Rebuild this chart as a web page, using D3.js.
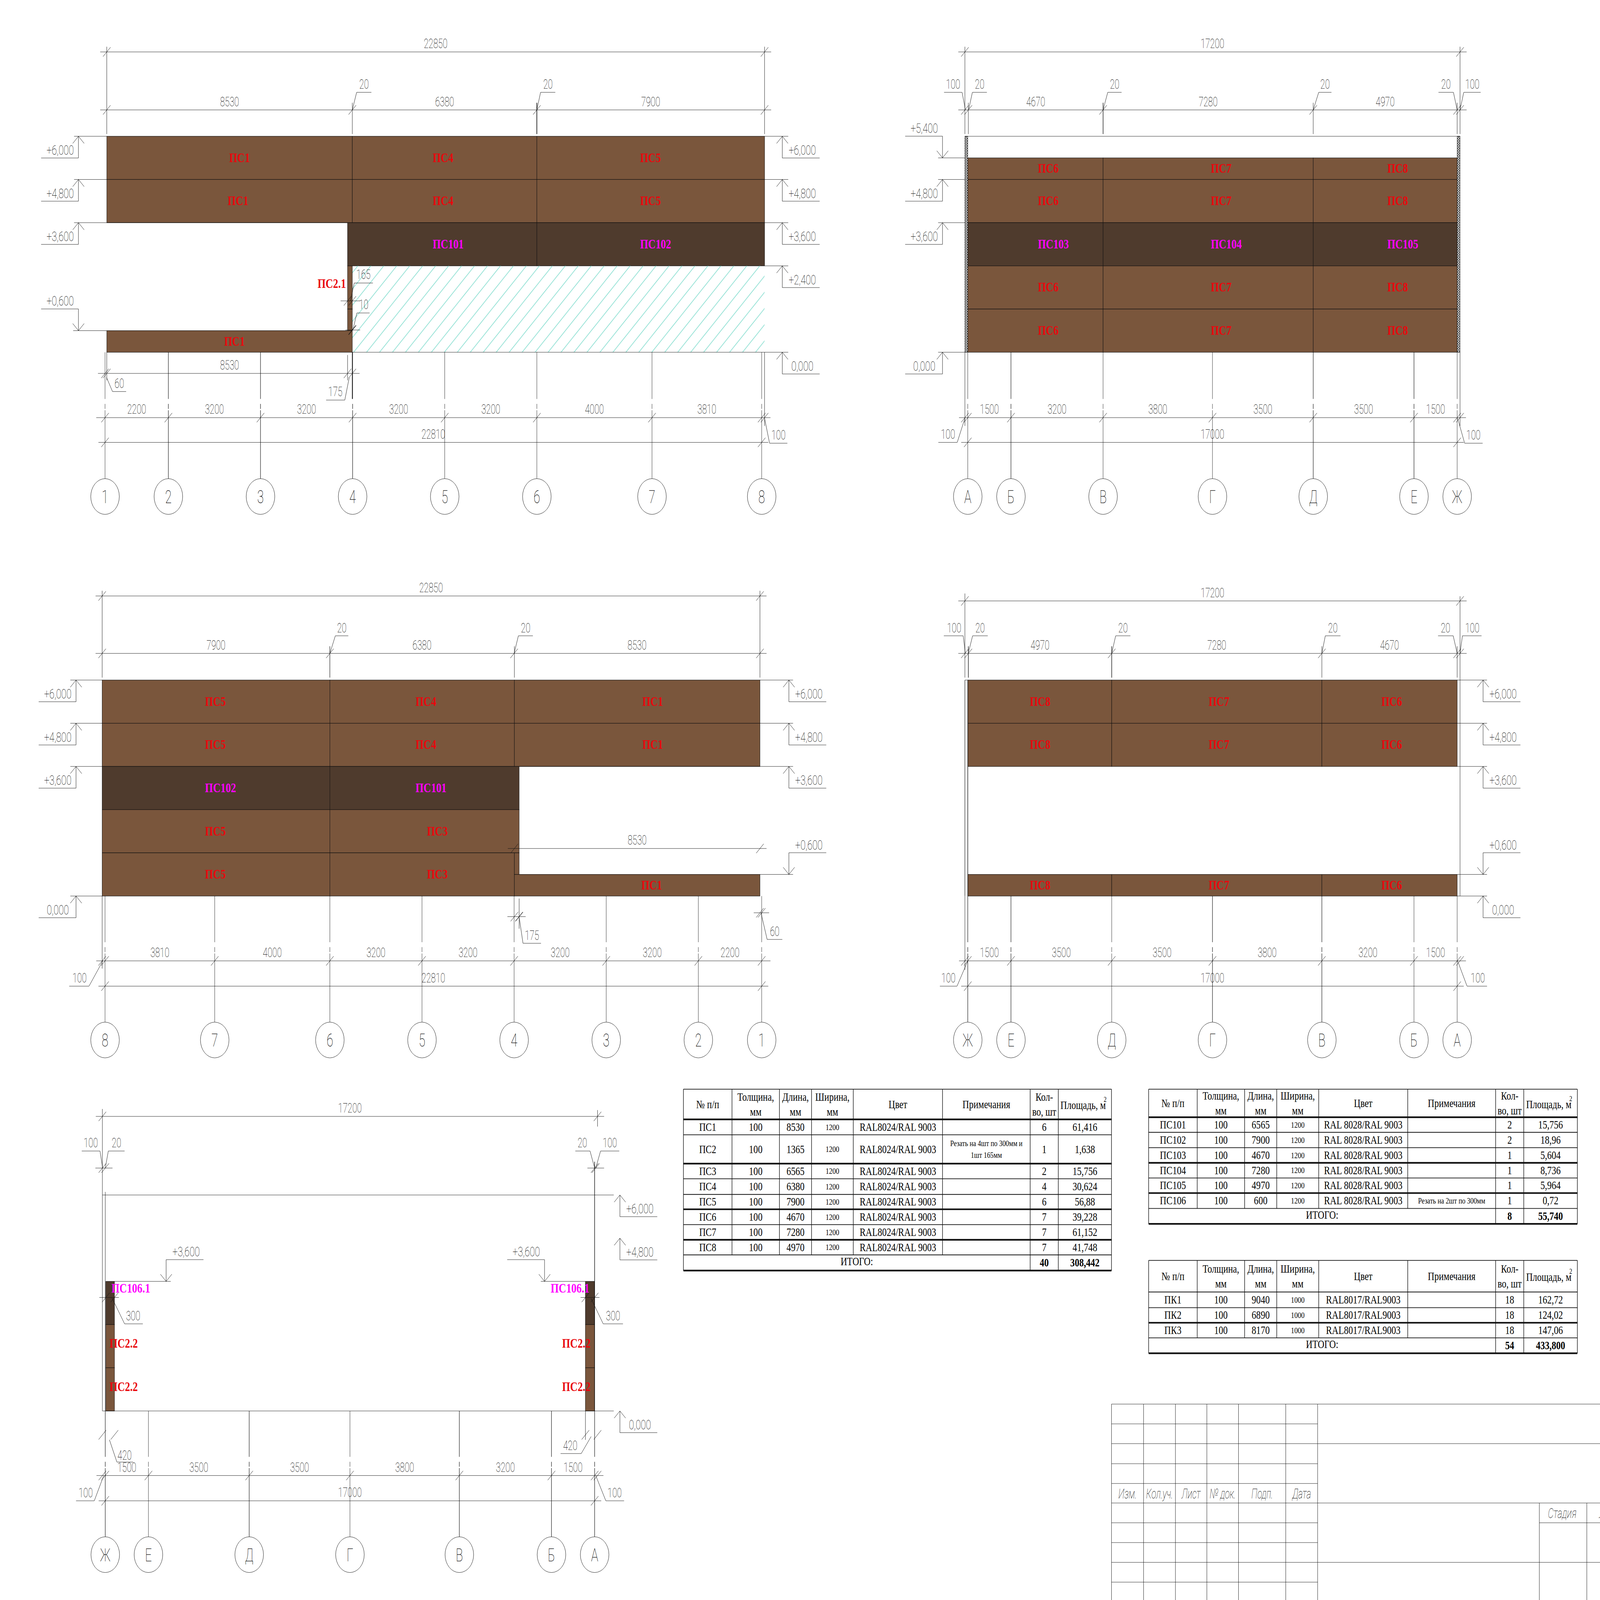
<!DOCTYPE html>
<html><head><meta charset="utf-8">
<script src="https://cdn.jsdelivr.net/npm/d3@7/dist/d3.min.js"></script>
<style>html,body{margin:0;padding:0;background:#fff;overflow:hidden}svg{display:block;width:100vw;height:100vh}</style>
</head><body><svg id="c" viewBox="0 0 7281 5823" preserveAspectRatio="none"></svg>
<script>
// ---------- drawing data, millimetres ----------
const axesLatin = ["1","2","3","4","5","6","7","8"];
const axesLatinPos = [0,2200,5400,8600,11800,15000,19000,22810];
const axesLatinSpans = ["2200","3200","3200","3200","3200","4000","3810"];
const axesLatinRev = ["8","7","6","5","4","3","2","1"];
const axesLatinRevPos = [0,3810,7810,11010,14210,17410,20610,22810];
const axesLatinRevSpans = ["3810","4000","3200","3200","3200","3200","2200"];
const axesCyr = ["А","Б","В","Г","Д","Е","Ж"];
const axesCyrPos = [0,1500,4700,8500,12000,15500,17000];
const axesCyrSpans = ["1500","3200","3800","3500","3500","1500"];
const axesCyrRev = ["Ж","Е","Д","Г","В","Б","А"];
const axesCyrRevPos = [0,1500,5000,8500,12300,15500,17000];
const axesCyrRevSpans = ["1500","3500","3500","3800","3200","1500"];

// panels: [from, to, bottom level, top level, kind] kind 0 brown, 1 dark, 2 hatch, 3 edge
const panels1 = [[60,8590,4800,6000,0],[8590,15000,4800,6000,0],[15000,22910,4800,6000,0],
 [60,8590,3600,4800,0],[8590,15000,3600,4800,0],[15000,22910,3600,4800,0],
 [8425,15000,2400,3600,1],[15000,22910,2400,3600,1],
 [8590,22910,0,2400,2],[8425,8590,1200,2400,0],[8425,8590,600,1200,0],[60,8590,0,600,0]];
const cols2 = [[0,4700],[4700,12000],[12000,17000]];
const rows2 = [[4800,5400,0],[3600,4800,0],[2400,3600,1],[1200,2400,0],[0,1200,0]];
const edges2 = [[-100,0,0,6000,3],[17000,17100,0,6000,3]];
const panels3 = [[-100,7810,4800,6000,0],[7810,14220,4800,6000,0],[14220,22750,4800,6000,0],
 [-100,7810,3600,4800,0],[7810,14220,3600,4800,0],[14220,22750,3600,4800,0],
 [-100,7810,2400,3600,1],[7810,14385,2400,3600,1],
 [-100,7810,1200,2400,0],[7810,14385,1200,2400,0],
 [-100,7810,0,1200,0],[7810,14220,0,1200,0],[14220,14385,600,1200,0],[14220,22750,0,600,0]];
const cols4 = [[0,5000],[5000,12300],[12300,17000]];
const rows4 = [[4800,6000,0],[3600,4800,0],[0,600,0]];
const cols5 = [[20,320],[16680,17000]];
const rows5 = [[2400,3600,1],[1200,2400,0],[0,1200,0]];

// panel marks: [text, start, level]
const marks1 = [["ПС1",4313,5400],["ПС1",4260,4200],["ПС4",11382,5400],["ПС4",11382,4200],["ПС5",18588,5400],["ПС5",18588,4200],
 ["ПС101",11382,3000],["ПС102",18588,3000],["ПС1",4137,300],["ПС2.1",7382,1900]];
const marks2 = d3.cross([["ПС6",2435],["ПС7",8443],["ПС8",14573]],[5100,4200,1800,600]).map(([a,l])=>[a[0],a[1],l])
 .concat([["ПС103",2435,3000],["ПС104",8443,3000],["ПС105",14573,3000]]);
const marks3 = [["ПС5",3473,5400],["ПС5",3473,4200],["ПС5",3473,1800],["ПС5",3473,600],["ПС4",10786,5400],["ПС4",10786,4200],
 ["ПС1",18664,5400],["ПС1",18664,4200],["ПС1",18630,300],["ПС102",3473,3000],["ПС101",10786,3000],["ПС3",11183,1800],["ПС3",11183,600]];
const marks4 = d3.cross([["ПС8",2153],["ПС7",8366],["ПС6",14366]],[5400,4200,300]).map(([a,l])=>[a[0],a[1],l]);
const marks5 = [["ПС106.1",214,3405],["ПС106.1",15473,3405],["ПС2.2",145,1870],["ПС2.2",145,664],["ПС2.2",15870,1870],["ПС2.2",15870,664]];

// tables
const tHead = [["№ п/п"],["Толщина,","мм"],["Длина,","мм"],["Ширина,","мм"],["Цвет"],["Примечания"],["Кол-","во, шт"],["Площадь, м"]];
const t1Name=["ПС1","ПС2","ПС3","ПС4","ПС5","ПС6","ПС7","ПС8"];
const t1Len=["8530","1365","6565","6380","7900","4670","7280","4970"];
const t1Qty=["6","1","2","4","6","7","7","7"];
const t1Area=["61,416","1,638","15,756","30,624","56,88","39,228","61,152","41,748"];
const t1Total=["40","308,442"];
const t2Name=["ПС101","ПС102","ПС103","ПС104","ПС105","ПС106"];
const t2Len=["6565","7900","4670","7280","4970","600"];
const t2Qty=["2","2","1","1","1","1"];
const t2Area=["15,756","18,96","5,604","8,736","5,964","0,72"];
const t2Total=["8","55,740"];
const t3Name=["ПК1","ПК2","ПК3"];
const t3Len=["9040","6890","8170"];
const t3Qty=["18","18","18"];
const t3Area=["162,72","124,02","147,06"];
const t3Total=["54","433,800"];

// ---------- layout ----------
const svg = d3.select("#c");
const S = 0.131, LINE="#111", THIN="Roboto", SERIF="'Liberation Serif'";
const BROWN="#7a563c", DARK="#4f3b2d", RED="#e9070d", MAG="#ff00ff";
const defs = svg.append("defs");
const hp = defs.append("pattern").attr("id","hatch").attr("patternUnits","userSpaceOnUse").attr("width",59).attr("height",59);
hp.append("path").attr("d","M0,59L59,0M-10,10L10,-10M49,69L69,49").attr("stroke","#7fdccd").attr("stroke-width",2.6);
const ep = defs.append("pattern").attr("id","edge").attr("patternUnits","userSpaceOnUse").attr("width",9).attr("height",9);
ep.append("rect").attr("width",9).attr("height",9).attr("fill","#fff");
ep.append("path").attr("d","M0,9L9,0M0,0L9,9").attr("stroke","#222").attr("stroke-width",1.8);

const gFill = svg.append("g"), gLines = svg.append("g").attr("fill","none"), gText = svg.append("g");
function seg(x1,y1,x2,y2,w=1.4,c=LINE){gLines.append("line").attr("x1",x1).attr("y1",y1).attr("x2",x2).attr("y2",y2).attr("stroke",c).attr("stroke-width",w);}
function poly(pts,w=1.4){gLines.append("path").attr("d",d3.line()(pts)).attr("stroke",LINE).attr("stroke-width",w);}
function thin(t,x,y,fs=48,sx=.82,anchor="middle",extra){
  const n=gText.append("text").attr("transform",`translate(${x},${y}) scale(${sx},1)`).attr("text-anchor",anchor)
   .attr("font-family",THIN).attr("font-weight",100).attr("font-size",fs).attr("fill","#000").text(t);
  if(extra) n.attr("font-style",extra);
}
function tick(x,y,w=1.4){seg(x-17,y+17,x+17,y-17,w);}
function hdim(xs,y,labels,l=30,r=30,w=1.4){
  seg(xs[0]-l,y,xs[xs.length-1]+r,y);
  xs.forEach(x=>tick(x,y,w));
  (labels||[]).forEach((t,i)=>{if(t) thin(t,(xs[i]+xs[i+1])/2,y-14);});
}
function leader(x1,y1,x2,y2,x3,t,cx,by){
  poly([[x1,y1],[x2,y2],[x3,y2]]);
  thin(t,cx===undefined?(x2+x3)/2:cx,by===undefined?y2-13:by);
}
function level(ax,y,t,dir,side,e1,e2){
  const u = dir>0 ? y+79 : y-79, leg = dir>0 ? 26 : -26;
  seg(ax,y,ax,u); poly([[ax-26,y+leg],[ax,y],[ax+26,y+leg]]);
  const x2 = side<0 ? ax-170 : ax+170; seg(ax,u,x2,u);
  thin(t,(ax+x2)/2+(side<0?2:6),u-12,46,.92);
  if(e1!==undefined) seg(e1,y,e2,y);
}
function panelRects(list,x,y){
  list.forEach(([a,b,h1,h2,k])=>{
    const fill = k===0?BROWN:k===1?DARK:k===2?"url(#hatch)":"url(#edge)";
    gFill.append("rect").attr("x",x(a)).attr("y",y(h2)).attr("width",x(b)-x(a)).attr("height",y(h1)-y(h2))
      .attr("fill",fill).attr("stroke",k===2?"none":"#111").attr("stroke-width",1.6);
  });
}
function markTexts(list,x,y){
  list.forEach(([t,a,l])=>gText.append("text").attr("x",x(a)).attr("y",y(l)+15).attr("font-family",SERIF).attr("font-weight",700)
    .attr("font-size",47).attr("fill",t.startsWith("ПС10")?MAG:RED).text(t));
}
function axisLines(names,pos,x,y,dimY,cy,spans,solid){
  names.forEach((n,i)=>{
    const px=x(pos[i]), w=(solid&&solid.includes(n))?2:1.3;
    seg(px,y(0),px,dimY-68,w); seg(px,dimY-50,px,dimY-32,w); seg(px,dimY-27,px,cy-65,w);
    gLines.append("ellipse").attr("cx",px).attr("cy",cy).attr("rx",65).attr("ry",65).attr("stroke",LINE).attr("stroke-width",1.4);
    thin(n,px,cy+24,66,.82);
  });
  hdim(pos.map(x),dimY,spans,40,40);
}
const scX = x0 => d3.scaleLinear().domain([0,1000]).range([x0,x0+S*1000]);
const scY = y0 => d3.scaleLinear().domain([0,6000]).range([y0,y0-S*6000]);

// ---- drawing 1: axes 1-8 ----
(function(){
  const x=scX(478), y=scY(1282);
  panelRects(panels1,x,y); markTexts(marks1,x,y);
  hdim([x(60),x(22910)],189,["22850"]);
  hdim([x(60),x(8590),x(15000),x(22910)],400,["8530","6380","7900"]);
  seg(x(60),170,x(60),488); seg(x(22910),170,x(22910),488);
  seg(x(8590),374,x(8590),488); seg(x(15000),374,x(15000),488,3);
  leader(x(8590),400,1623,336,1690,"20"); leader(x(15000),400,2460,336,2527,"20");
  axisLines(axesLatin,axesLatinPos,x,y,1520,1807,axesLatinSpans,["2","3","4"]);
  hdim([x(0),x(22810)],1610,["22810"]); tick(x(22910),1520);
  seg(x(22910),y(0),x(22910),1550);
  leader(x(22910),1522,3502,1613,3583,"100");
  hdim([x(60),x(8590)],1359,["8530"],40,33); tick(x(0),1359); tick(x(8425),1359,1.4);
  seg(x(8425),1292,x(8425),1384); seg(x(60),y(0),x(60),1384); seg(x(8590),y(0),x(8590),1452,3);
  leader(485,1374,512,1425,574,"60");
  poly([[1589,1375],[1569,1456],[1484,1456]]); thin("175",1526,1441);
  seg(1550,1095,1638,1095); tick(x(8425),1095); tick(x(8590),1095);
  leader(1595,1095,1612,1030,1697,"165",1654,1015);
  seg(1572,1201,1639,1201); tick(x(8590),1201,2.4);
  leader(1606,1201,1624,1139,1682,"10",1655,1125);
  level(357,y(6000),"+6,000",1,-1,337,x(60));
  level(357,y(4800),"+4,800",1,-1,337,x(60));
  level(357,y(3600),"+3,600",1,-1,337,x(8425));
  level(357,y(600),"+0,600",-1,-1,333,x(60));
  const a=3560,e=3587;
  level(a,y(6000),"+6,000",1,1,x(22910),e);
  level(a,y(4800),"+4,800",1,1,x(22910),e);
  level(a,y(3600),"+3,600",1,1,x(22910),e);
  level(a,y(2400),"+2,400",1,1,x(22910),e);
  level(a,y(0),"0,000",1,1,x(8590),e);
})();

// ---- drawing 2: axes А-Ж ----
(function(){
  const x=scX(4404), y=scY(1282);
  panelRects(d3.cross(cols2,rows2).map(([c,r])=>[c[0],c[1],r[0],r[1],r[2]]).concat(edges2),x,y);
  markTexts(marks2,x,y);
  seg(x(-100),y(6000),x(17100),y(6000));
  hdim([x(-100),x(17100)],189,["17200"]);
  hdim([x(-100),x(20),x(4700),x(12000),x(17000),x(17100)],400,["","4670","7280","4970",""]);
  seg(x(-100),170,x(-100),488); seg(x(17100),170,x(17100),488);
  seg(x(20),374,x(20),488); seg(x(4700),374,x(4700),488,2.4); seg(x(12000),374,x(12000),488);seg(x(17000),374,x(17000),488);
  leader(4393,399,4378,336,4296,"100",4337); leader(4408,399,4425,336,4491,"20",4458);
  leader(x(4700),400,5041,336,5104,"20"); leader(x(12000),400,6001,336,6059,"20");
  leader(6631,400,6614,336,6546,"20",6580); leader(6644,400,6661,336,6738,"100",6700);
  axisLines(axesCyr,axesCyrPos,x,y,1520,1807,axesCyrSpans,["Б","Д","Е"]);
  hdim([x(0),x(17000)],1610,["17000"]); tick(x(-100),1520); tick(x(17100),1520);
  seg(x(-100),y(0),x(-100),1550); seg(x(17100),y(0),x(17100),1550);
  poly([[4391,1522],[4356,1610],[4270,1610]]); thin("100",4314,1597);
  poly([[6633,1522],[6665,1613],[6747,1613]]); thin("100",6705,1600);
  const a=4289;
  level(a,y(5400),"+5,400",-1,-1,a-20,x(-100));
  level(a,y(4800),"+4,800",1,-1,a-20,x(-100));
  level(a,y(3600),"+3,600",1,-1,a-20,x(-100));
  level(a,y(0),"0,000",1,-1,a-20,x(-100));
})();

// ---- drawing 3: axes 8-1 ----
(function(){
  const x=scX(478), y=scY(3261);
  panelRects(panels3,x,y); markTexts(marks3,x,y);
  hdim([x(-100),x(22750)],2169,["22850"]);
  hdim([x(-100),x(7810),x(14210),x(22750)],2378,["7900","6380","8530"]);
  seg(x(-100),2150,x(-100),2466); seg(x(22750),2150,x(22750),2466);
  seg(x(7810),2352,x(7810),2466,2); seg(x(14220),2352,x(14220),2466);
  leader(x(7810),2378,1526,2314,1585,"20"); leader(x(14210),2378,2359,2314,2425,"20");
  axisLines(axesLatinRev,axesLatinRevPos,x,y,3497,3785,axesLatinRevSpans);
  hdim([x(0),x(22810)],3589,["22810"]); tick(x(-100),3497);
  seg(x(-100),y(0),x(-100),3525);
  poly([[468,3497],[405,3589],[315,3589]]); thin("100",362,3576);
  hdim([x(14220),x(22750)],3088,["8530"]);
  seg(x(14385),3270,x(14385),3380,1.6); seg(2309,3336,2392,3336); tick(x(14220),3336); tick(x(14385),3336,2);
  leader(2363,3340,2380,3433,2462,"175");
  seg(3430,3322,3500,3322); tick(x(22750),3322); tick(x(22810),3322);
  leader(3463,3322,3491,3419,3560,"60");
  const l=346,e=320;
  level(l,y(6000),"+6,000",1,-1,e,x(-100));
  level(l,y(4800),"+4,800",1,-1,e,x(-100));
  level(l,y(3600),"+3,600",1,-1,e,x(-100));
  level(l,y(0),"0,000",1,-1,e,x(-100));
  const a=3590,f=3609;
  level(a,y(6000),"+6,000",1,1,x(22750),f);
  level(a,y(4800),"+4,800",1,1,x(22750),f);
  level(a,y(3600),"+3,600",1,1,x(14385),f);
  level(a,y(600),"+0,600",-1,1,x(14220),f);
})();

// ---- drawing 4: axes Ж-А ----
(function(){
  const x=scX(4404), y=scY(3261);
  panelRects(d3.cross(cols4,rows4).map(([c,r])=>[c[0],c[1],r[0],r[1],r[2]]),x,y);
  markTexts(marks4,x,y);
  seg(x(-100),y(6000),x(0),y(6000)); seg(x(-100),y(6000),x(-100),y(0),2); seg(x(0),y(6000),x(0),y(0),2.4);
  hdim([x(-100),x(17100)],2187,["17200"]);
  hdim([x(-100),x(20),x(5000),x(12300),x(17000),x(17100)],2378,["","4970","7280","4670",""]);
  seg(x(-100),2160,x(-100),2466); seg(x(20),2352,x(20),2466,2.4); seg(x(5000),2352,x(5000),2466,2.4); seg(x(12300),2352,x(12300),2466); seg(x(17000),2352,x(17000),2466); seg(x(17100),2170,x(17100),y(0));
  leader(4393,2378,4383,2314,4295,"100",4342); leader(4406,2378,4426,2314,4495,"20",4460);
  leader(x(5000),2378,5077,2314,5144,"20"); leader(x(12300),2378,6031,2314,6100,"20");
  leader(6631,2378,6613,2314,6544,"20",6578); leader(6644,2378,6655,2314,6742,"100",6700);
  axisLines(axesCyrRev,axesCyrRevPos,x,y,3497,3785,axesCyrRevSpans,["Ж","Е","Г","В"]);
  hdim([x(0),x(17000)],3589,["17000"]); tick(x(-100),3497); tick(x(17100),3497);
  seg(x(-100),y(0),x(-100),3530);
  poly([[4404,3497],[4355,3589],[4277,3589]]); thin("100",4316,3576);
  poly([[6633,3497],[6676,3589],[6767,3589]]); thin("100",6725,3576);
  const a=6749,e=6767;
  level(a,y(6000),"+6,000",1,1,x(17000),e);
  level(a,y(4800),"+4,800",1,1,x(17000),e);
  level(a,y(3600),"+3,600",1,1,x(17000),e);
  level(a,y(600),"+0,600",-1,1,x(17000),e);
  level(a,y(0),"0,000",1,1,x(17000),e);
})();

// ---- drawing 5: end elevation ----
(function(){
  const x=scX(479), y=scY(5135);
  panelRects(d3.cross(cols5,rows5).map(([c,r])=>[c[0],c[1],r[0],r[1],r[2]]),x,y);
  markTexts(marks5,x,y);
  seg(x(-100),y(6000),2793,y(6000)); seg(x(-100),y(0),2793,y(0));
  seg(x(-100),4338,x(-100),y(0)); seg(x(0),4338,x(0),y(0)); seg(x(17000),4228,x(17000),y(0),2.4);
  hdim([x(-100),x(17100)],4063,["17200"]);
  seg(x(-100),4036,x(-100),4338); seg(x(17100),4040,x(17100),4100);
  seg(434,4251,512,4251); tick(x(-100),4251); tick(x(0),4251);
  seg(2673,4251,2749,4251); tick(x(17000),4251); tick(2711,4251);
  leader(467,4251,455,4189,372,"100",413); leader(479,4251,493,4189,567,"20",530);
  leader(2706,4251,2685,4189,2618,"20",2650); leader(2711,4251,2733,4189,2818,"100",2775);
  seg(452,4722,541,4722); tick(x(20),4722); tick(x(320),4722);
  leader(510,4724,567,4818,650,"300",606,4805);
  seg(2642,4722,2728,4722); tick(x(16680),4722); tick(x(17000),4722);
  leader(2690,4726,2745,4818,2835,"300",2790,4805);
  seg(x(16680),y(0),x(16680),5240);
  tick(x(-100),5222); tick(x(320),5222); tick(x(16680),5222); tick(x(17100),5222);
  leader(498,5240,532,5321,606,"420",567,5312);
  leader(2690,5228,2645,5290,2551,"420",2595,5277);
  axisLines(axesCyrRev,axesCyrRevPos,x,y,5370,5658,axesCyrRevSpans,["Ж","Д","В","Б","А"]);
  tick(x(-100),5370); tick(x(17100),5370);
  hdim([x(0),x(17000)],5462,["17000"]);
  poly([[472,5370],[429,5462],[346,5462]]); thin("100",390,5449);
  poly([[2711,5370],[2757,5462],[2840,5462]]); thin("100",2797,5449);
  const a=2821;
  level(a,y(6000),"+6,000",1,1);
  level(a,y(4800),"+4,800",1,1);
  level(a,y(0),"0,000",1,1);
  level(756,y(3600),"+3,600",-1,1,x(320),777);
  level(2478,y(3600),"+3,600",-1,-1,2461,x(16680));
})();

// ---------- tables ----------
function serif(t,x,y,fs=41,bold=false,anchor="middle"){
  gText.append("text").attr("x",x).attr("y",y+.33*fs).attr("text-anchor",anchor).attr("font-family",SERIF)
   .attr("font-size",fs).attr("font-weight",bold?700:400).attr("fill","#000").text(t);
}
function table(cx,ry,heavy,name,len,wid,color,qty,area,total,notes){
  const nRow=ry.length-1;
  const Y0=ry[0],Yn=ry[nRow],YT=ry[nRow-1];
  ry.forEach((v,i)=>seg(cx[0],v,cx[8],v,heavy.includes(i)?6:2.6));
  cx.forEach((v,i)=>seg(v,Y0,v,(i>0&&i<6)?YT:Yn,2.4));
  const c=i=>(cx[i]+cx[i+1])/2, hc=(ry[0]+ry[1])/2;
  tHead.forEach((l,i)=>{
    if(l.length===1) serif(l[0],c(i)-(i===7?8:0),hc+(i===7?4:0));
    else {serif(l[0],c(i),hc-27); serif(l[1],c(i),hc+28);}
  });
  gText.append("text").attr("x",c(7)+92).attr("y",hc-8).attr("font-family",SERIF).attr("font-size",26).attr("text-anchor","middle").text("2");
  name.forEach((n,r)=>{
    const m=(ry[r+1]+ry[r+2])/2;
    serif(n,c(0),m); serif("100",c(1),m); serif(len[r],c(2),m);
    serif(wid,c(3),m,31); serif(color,c(4),m);
    serif(qty[r],c(6),m); serif(area[r],c(7),m);
    const nt=notes[r];
    if(nt){ if(nt.length===2){serif(nt[0],c(5),m-22,30);serif(nt[1],c(5),m+22,30);} else serif(nt[0],c(5),m,30); }
  });
  const mt=(ry[nRow-1]+ry[nRow])/2;
  serif("ИТОГО:",(cx[0]+cx[6])/2,mt-4);
  serif(total[0],c(6),mt,41,true); serif(total[1],c(7),mt,41,true);
}
table([3110,3331,3547,3693,3883,4289,4688,4816,5058],[3964,4074,4130,4235,4290,4347,4401,4457,4512,4567,4624],[1,3,6,8,10],
  t1Name,t1Len,"1200","RAL8024/RAL 9003",t1Qty,t1Area,t1Total,{1:["Резать на 4шт по 300мм и","1шт 165мм"]});
table([5227,5448,5664,5810,6001,6406,6806,6934,7178],[3964,4066,4121,4177,4232,4287,4342,4398,4454],[1,4,6,8],
  t2Name,t2Len,"1200","RAL 8028/RAL 9003",t2Qty,t2Area,t2Total,{5:["Резать на 2шт по 300мм"]});
table([5227,5448,5664,5810,6001,6406,6806,6934,7178],[4587,4702,4759,4814,4869,4925],[3,5],
  t3Name,t3Len,"1000","RAL8017/RAL9003",t3Qty,t3Area,t3Total,{});

// ---------- title block ----------
const stampCols=[5058,5204,5349,5492,5636,5851,5996];
const stampRows=[5110,5182,5254,5327,5399,5470,5542,5614,5686,5758];
const stampHead=["Изм.","Кол.уч.","Лист","№ док.","Подп.","Дата"];
stampRows.forEach(v=>seg(5058,v,5996,v));
stampCols.forEach(v=>seg(v,5110,v,5823));
[5110,5254,5470,5686].forEach(v=>seg(5996,v,7281,v));
[7005,7221].forEach(v=>seg(v,5470,v,5823));
seg(7005,5542,7281,5542);
stampHead.forEach((t,i)=>thin(t,(stampCols[i]+stampCols[i+1])/2,5453,50,.8,"middle","italic"));
thin("Стадия",7109,5524,50,.82,"middle","italic");
thin("Лист",7277,5524,50,.82,"start","italic");
</script></body></html>
